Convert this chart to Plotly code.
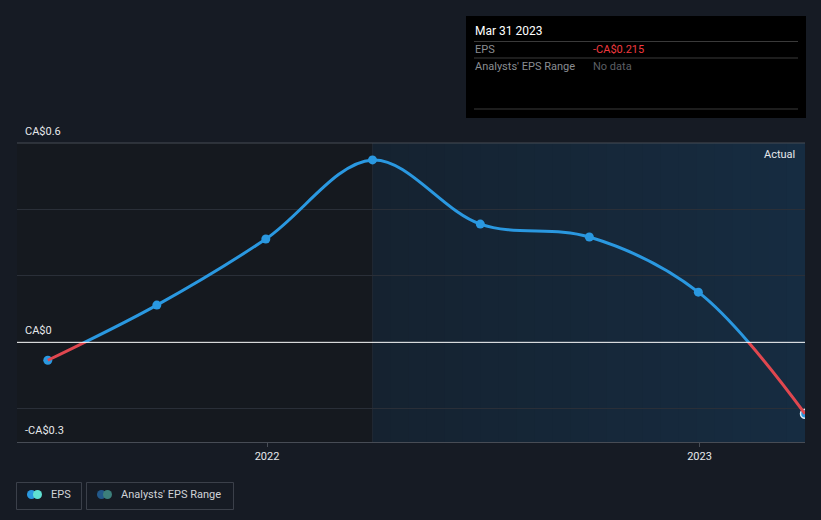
import plotly.graph_objects as go
import pandas as pd

# ---- data ----
dates = ["2021-06-30", "2021-09-30", "2021-12-31", "2022-03-31",
         "2022-06-30", "2022-09-30", "2022-12-31", "2023-03-31"]
eps = [-0.054, 0.112, 0.311, 0.549, 0.356, 0.317, 0.151, -0.215]
y_labels = ["CA$0.6", "CA$0", "-CA$0.3"]
y_label_vals = [0.6, 0.0, -0.3]
x_tick_vals = ["2022-01-01", "2023-01-01"]
x_tick_text = ["2022", "2023"]
x_range = ["2021-06-04", "2023-03-31"]
y_range = [-0.3, 0.6]
actual_start = "2022-03-31"

BG = "#161b24"
BLUE = "#2a98e0"
RED = "#e0474f"
FONT = "Roboto"

# plot area in pixels
L, R, T, B = 17, 805, 143, 442
W, H = R - L, B - T
def px(p):
    return (p - L) / W
def py(p):
    return (B - p) / H

zero_frac = (0 - y_range[0]) / (y_range[1] - y_range[0])

fig = go.Figure()

# blue part (clipped above zero)
fig.add_trace(go.Scatter(x=dates, y=eps, mode="lines", yaxis="y2",
                         line=dict(color=BLUE, width=3, shape="spline", smoothing=1.0),
                         hoverinfo="skip", showlegend=False))
# red part (clipped below zero)
fig.add_trace(go.Scatter(x=dates, y=eps, mode="lines", yaxis="y3",
                         line=dict(color=RED, width=3, shape="spline", smoothing=1.0),
                         hoverinfo="skip", showlegend=False))
# markers
fig.add_trace(go.Scatter(x=dates, y=eps, mode="markers", yaxis="y",
                         marker=dict(color=BLUE, size=9,
                                     line=dict(color=[BLUE]*7 + ["#dfeaf5"], width=[0]*7 + [1.5])),
                         showlegend=False))

shapes = []
# background regions
shapes.append(dict(type="rect", xref="x", yref="paper", x0=x_range[0], x1=actual_start,
                   y0=0, y1=1, fillcolor="#15191f", line_width=0, layer="below"))
# gradient for the "Actual" region
t0 = pd.Timestamp(actual_start)
t1 = pd.Timestamp(x_range[1])
n = 24
c0 = (21, 34, 48)
c1 = (22, 44, 65)
for i in range(n):
    a = t0 + (t1 - t0) * i / n
    b = t0 + (t1 - t0) * (i + 1) / n
    f = (i + 0.5) / n
    col = "rgb(%d,%d,%d)" % tuple(round(c0[k] + (c1[k] - c0[k]) * f) for k in range(3))
    shapes.append(dict(type="rect", xref="x", yref="paper", x0=a, x1=b + pd.Timedelta(hours=12),
                       y0=0, y1=1, fillcolor=col, line_width=0, layer="below"))
shapes.append(dict(type="line", xref="x", yref="paper", x0=actual_start, x1=actual_start,
                   y0=0, y1=1, line=dict(color="rgba(255,255,255,0.05)", width=1), layer="below"))
# top border line
shapes.append(dict(type="line", xref="paper", yref="paper", x0=0, x1=1, y0=1, y1=1,
                   line=dict(color="#474c55", width=1)))
# zero line
shapes.append(dict(type="line", xref="paper", yref="y", x0=0, x1=1, y0=0, y1=0,
                   line=dict(color="#ffffff", width=1), layer="above"))

# tooltip box
shapes.append(dict(type="rect", xref="paper", yref="paper", x0=px(466), x1=px(806),
                   y0=py(118), y1=py(16), fillcolor="#000000", line_width=0))
for yy in [41.5, 58, 109]:
    shapes.append(dict(type="line", xref="paper", yref="paper", x0=px(474), x1=px(798),
                       y0=py(yy), y1=py(yy), line=dict(color="#3a3a3a", width=1)))

# legend boxes
shapes.append(dict(type="rect", xref="paper", yref="paper", x0=px(16.5), x1=px(81.5),
                   y0=py(509.5), y1=py(482.5), line=dict(color="#3b404a", width=1),
                   fillcolor="rgba(0,0,0,0)"))
shapes.append(dict(type="rect", xref="paper", yref="paper", x0=px(86.5), x1=px(233.5),
                   y0=py(509.5), y1=py(482.5), line=dict(color="#3b404a", width=1),
                   fillcolor="rgba(0,0,0,0)"))
def circle(cx, cy, r, color):
    return dict(type="circle", xref="paper", yref="paper", xsizemode="pixel", ysizemode="pixel",
                xanchor=px(cx), yanchor=py(cy), x0=-r, x1=r, y0=-r, y1=r,
                fillcolor=color, line_width=0)
shapes.append(circle(31.5, 494.5, 4.5, BLUE))
shapes.append(circle(37.5, 494.5, 4.5, "#5fe0d2"))
shapes.append(circle(101.5, 494.5, 4.5, "#22588a"))
shapes.append(circle(107.5, 494.5, 4.5, "#3c7f7b"))

annotations = []
for lab, v in zip(y_labels, y_label_vals):
    annotations.append(dict(text=lab, xref="paper", yref="y", x=0, y=v, xanchor="left",
                            yanchor="bottom", xshift=6, yshift=3, showarrow=False,
                            font=dict(family=FONT, size=11, color="#e6e8eb")))
annotations.append(dict(text="Actual", xref="paper", yref="paper", x=px(797), y=py(154),
                        xanchor="right", yanchor="middle", showarrow=False,
                        font=dict(family=FONT, size=11, color="#e6e8eb")))
# tooltip texts
annotations.append(dict(text="Mar 31 2023", xref="paper", yref="paper", x=px(473), y=py(31),
                        xanchor="left", yanchor="middle", showarrow=False,
                        font=dict(family=FONT, size=12, color="#ffffff")))
annotations.append(dict(text="EPS", xref="paper", yref="paper", x=px(473), y=py(49.5),
                        xanchor="left", yanchor="middle", showarrow=False,
                        font=dict(family=FONT, size=11, color="#8a8d92")))
annotations.append(dict(text="-CA$0.215", xref="paper", yref="paper", x=px(591), y=py(49.5),
                        xanchor="left", yanchor="middle", showarrow=False,
                        font=dict(family=FONT, size=11, color="#f0393e")))
annotations.append(dict(text="Analysts' EPS Range", xref="paper", yref="paper", x=px(473), y=py(66.5),
                        xanchor="left", yanchor="middle", showarrow=False,
                        font=dict(family=FONT, size=11, color="#8a8d92")))
annotations.append(dict(text="No data", xref="paper", yref="paper", x=px(591), y=py(66.5),
                        xanchor="left", yanchor="middle", showarrow=False,
                        font=dict(family=FONT, size=11, color="#5c5f64")))
# legend texts
annotations.append(dict(text="EPS", xref="paper", yref="paper", x=px(49), y=py(494.5),
                        xanchor="left", yanchor="middle", showarrow=False,
                        font=dict(family=FONT, size=11, color="#d0d3d8")))
annotations.append(dict(text="Analysts' EPS Range", xref="paper", yref="paper", x=px(119), y=py(494.5),
                        xanchor="left", yanchor="middle", showarrow=False,
                        font=dict(family=FONT, size=11, color="#d0d3d8")))

fig.update_layout(
    width=821, height=520,
    margin=dict(l=L, r=821 - R, t=T, b=520 - B),
    paper_bgcolor=BG, plot_bgcolor="rgba(0,0,0,0)",
    showlegend=False,
    font=dict(family=FONT, color="#e6e8eb"),
    xaxis=dict(type="date", range=x_range, tickvals=x_tick_vals, ticktext=x_tick_text,
               showgrid=False, zeroline=False, showline=True, linecolor="#474c55", linewidth=1,
               ticks="outside", ticklen=4, tickcolor="#474c55",
               tickfont=dict(family=FONT, size=11, color="#e6e8eb"), anchor="y", fixedrange=True),
    yaxis=dict(range=y_range, domain=[0, 1], tickvals=[-0.2, 0.2, 0.4], showticklabels=False,
               showgrid=True, gridcolor="#2a2f38", gridwidth=1, zeroline=False, showline=False,
               ticks="", fixedrange=True),
    yaxis2=dict(range=[0, y_range[1]], domain=[zero_frac, 1], visible=False, anchor="x",
                showgrid=False, zeroline=False, fixedrange=True),
    yaxis3=dict(range=[y_range[0], 0], domain=[0, zero_frac], visible=False, anchor="x",
                showgrid=False, zeroline=False, fixedrange=True),
    shapes=shapes, annotations=annotations,
)

fig.write_html("out.html", config={"displayModeBar": False},
               post_script="document.body.style.margin='0';document.body.style.padding='0';")
